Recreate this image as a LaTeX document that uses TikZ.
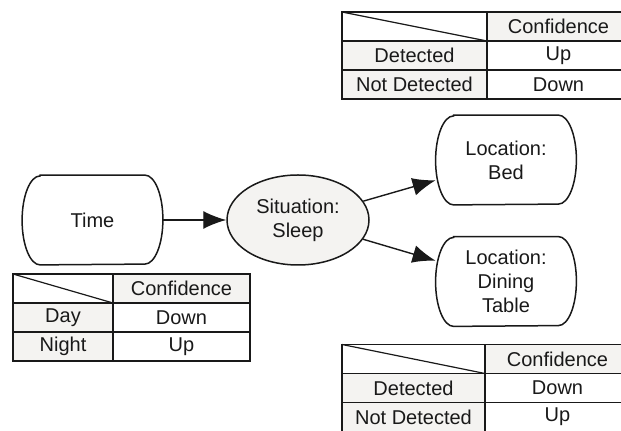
\documentclass[tikz,border=0pt]{standalone}
\usepackage{fontspec}
\setmainfont{Liberation Sans}
\usetikzlibrary{arrows.meta, shapes.geometric}

\definecolor{cellgrey}{RGB}{244,243,241}
\definecolor{ink}{RGB}{25,25,25}

\tikzset{
  txt/.style={font=\fontsize{10}{12}\selectfont, text=ink, align=center, inner sep=0pt},
  tableline/.style={draw=ink, line width=0.9pt},
  diagline/.style={draw=ink, line width=0.6pt},
  nodeline/.style={draw=ink, line width=0.75pt},
  statebox/.style={txt, minimum width=70pt, minimum height=44.5pt},
  link/.style={draw=ink, line width=0.7pt, -{Latex[length=11.5pt, width=9pt]}},
}

% Confidence table: #1 x0, #2 x1, #3 x2, #4 y0, #5..#8 row texts, #9 name prefix
\newcommand{\conftable}[9]{%
  \fill[cellgrey] (#2,#4) rectangle (#3,{#4+29});
  \fill[cellgrey] (#1,{#4+29}) rectangle (#2,{#4+87});
  \draw[tableline] (#1,#4) rectangle (#3,{#4+87});
  \draw[tableline] (#1,{#4+29}) -- (#3,{#4+29});
  \draw[tableline] (#1,{#4+58}) -- (#3,{#4+58});
  \draw[tableline] (#2,#4) -- (#2,{#4+87});
  \draw[diagline] (#1,#4) -- (#2,{#4+29});
  \node[txt] (#9-head) at ({(#2+#3)/2},{#4+14.5}) {Confidence};
  \node[txt] (#9-ka) at ({(#1+#2)/2},{#4+43.5}) {#5};
  \node[txt] (#9-va) at ({(#2+#3)/2},{#4+43.5}) {#6};
  \node[txt] (#9-kb) at ({(#1+#2)/2},{#4+72.5}) {#7};
  \node[txt] (#9-vb) at ({(#2+#3)/2},{#4+72.5}) {#8};
}

% Outline with straight top/bottom and half-elliptical sides
\newcommand{\capsule}[1]{%
  \draw[nodeline] ([xshift=9pt]#1.north west) -- ([xshift=-9pt]#1.north east)
    arc[start angle=90, end angle=-90, x radius=9pt, y radius=22.25pt]
    -- ([xshift=9pt]#1.south west)
    arc[start angle=270, end angle=90, x radius=9pt, y radius=22.25pt] -- cycle;
}

\begin{document}
\begin{tikzpicture}[x=0.5pt, y=-0.5pt]
  \useasboundingbox (0,0) rectangle (621,431);

  % nodes
  \node[statebox] (time) at (92.5,220) {Time};
  \node[txt, ellipse, nodeline, fill=cellgrey, minimum width=71pt, minimum height=45pt]
    (sit) at (298,220) {Situation:\\Sleep};
  \node[statebox] (bed) at (506,160) {Location:\\Bed};
  \node[statebox] (dining) at (506,281.5) {Location:\\Dining\\Table};
  \capsule{time}
  \capsule{bed}
  \capsule{dining}

  % connectors
  \draw[link] (time) -- (sit);
  \draw[link] (sit) -- (bed);
  \draw[link] (sit) -- (dining);

  % confidence tables
  \conftable{342}{487}{630}{12}{Detected}{Up}{Not Detected}{Down}{bedtab}
  \conftable{13}{113}{250}{274}{Day}{Down}{Night}{Up}{timetab}
  \conftable{342}{485}{630}{344.5}{Detected}{Down}{Not Detected}{Up}{dintab}
\end{tikzpicture}
\end{document}
